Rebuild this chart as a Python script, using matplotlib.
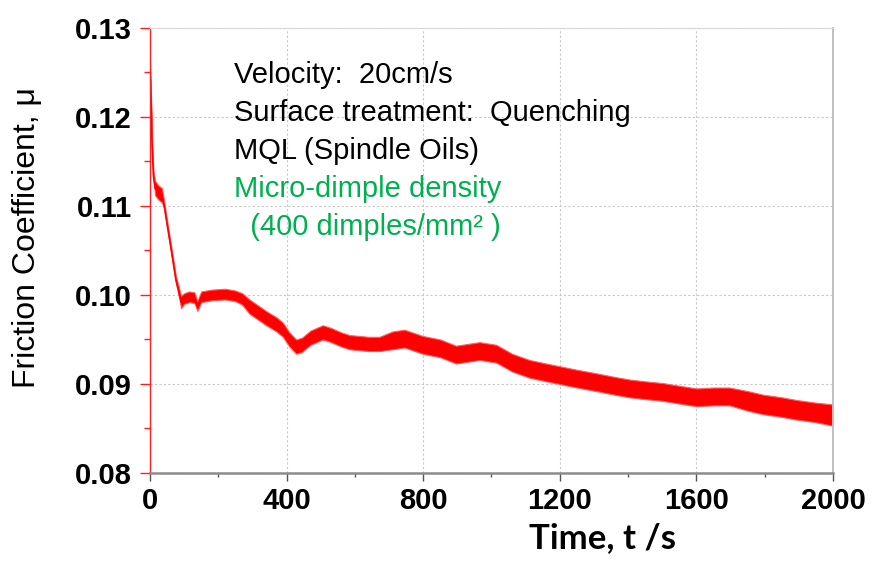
import matplotlib
matplotlib.use("Agg")
import matplotlib.pyplot as plt
from matplotlib.ticker import MultipleLocator

# time (s) and friction band (centre, lower and upper edge of the noisy line)
time_s = [0, 3, 6, 10, 15, 25, 35, 42, 50, 61, 76, 85, 91, 100, 115, 130, 139, 150,
          180, 220, 250, 270, 291, 340, 370, 389, 408, 428, 445, 470, 506, 530, 560,
          584, 640, 672, 710, 745, 798, 850, 896, 965, 1014, 1060, 1111, 1160, 1199,
          1250, 1307, 1360, 1404, 1450, 1502, 1550, 1600, 1650, 1697, 1750, 1795,
          1850, 1893, 1950, 2000]
mu_mid = [0.1255, 0.1220, 0.1170, 0.1135, 0.1120, 0.1115, 0.1112, 0.1100, 0.1080,
          0.1054, 0.1017, 0.1003, 0.0992, 0.0996, 0.0998, 0.0997, 0.0987, 0.0998,
          0.1000, 0.1001, 0.0999, 0.0995, 0.0987, 0.0974, 0.0967, 0.0961, 0.0950,
          0.0942, 0.0944, 0.0952, 0.0958, 0.0955, 0.0950, 0.0947, 0.0945, 0.0945,
          0.0949, 0.0951, 0.0944, 0.0940, 0.0933, 0.0937, 0.0934, 0.0924, 0.0917,
          0.0913, 0.0910, 0.0906, 0.0902, 0.0898, 0.0895, 0.0893, 0.0891, 0.0888,
          0.0885, 0.0886, 0.0886, 0.0881, 0.0877, 0.0874, 0.0871, 0.0868, 0.0865]
mu_lo = [0.1249, 0.1216, 0.1166, 0.1131, 0.1112, 0.1107, 0.1104, 0.1096, 0.1076,
         0.1050, 0.1013, 0.0998, 0.0985, 0.0990, 0.0992, 0.0991, 0.0982, 0.0992,
         0.0994, 0.0995, 0.0993, 0.0989, 0.0979, 0.0966, 0.0959, 0.0953, 0.0942,
         0.0934, 0.0936, 0.0944, 0.0950, 0.0947, 0.0942, 0.0939, 0.0937, 0.0937,
         0.0939, 0.0941, 0.0934, 0.0930, 0.0923, 0.0927, 0.0924, 0.0914, 0.0907,
         0.0903, 0.0900, 0.0896, 0.0892, 0.0888, 0.0885, 0.0883, 0.0881, 0.0878,
         0.0875, 0.0876, 0.0876, 0.0870, 0.0866, 0.0863, 0.0860, 0.0857, 0.0853]
mu_hi = [0.1262, 0.1224, 0.1174, 0.1139, 0.1128, 0.1123, 0.1120, 0.1104, 0.1084,
         0.1058, 0.1021, 0.1008, 0.0999, 0.1002, 0.1004, 0.1003, 0.0993, 0.1004,
         0.1006, 0.1007, 0.1005, 0.1002, 0.0995, 0.0982, 0.0975, 0.0969, 0.0958,
         0.0950, 0.0952, 0.0960, 0.0966, 0.0963, 0.0958, 0.0955, 0.0953, 0.0953,
         0.0959, 0.0961, 0.0954, 0.0950, 0.0943, 0.0947, 0.0944, 0.0934, 0.0927,
         0.0923, 0.0920, 0.0916, 0.0912, 0.0908, 0.0905, 0.0903, 0.0901, 0.0898,
         0.0895, 0.0896, 0.0896, 0.0892, 0.0888, 0.0885, 0.0882, 0.0879, 0.0877]

notes_black = ["Velocity:  20cm/s", "Surface treatment:  Quenching", "MQL (Spindle Oils)"]
notes_green = ["Micro-dimple density", "  (400 dimples/mm\u00b2 )"]

plt.rcParams['font.family'] = ['Liberation Sans', 'DejaVu Sans']

fig = plt.figure(figsize=(8.74, 5.63), dpi=100)
ax = fig.add_axes([0.1716, 0.1599, 0.7815, 0.7904])

ax.fill_between(time_s, mu_lo, mu_hi, color="#ff0000", linewidth=0.8, edgecolor="#ff6060")
ax.plot(time_s, mu_mid, color="#ff0000", linewidth=1.2)

ax.set_xlim(0, 2000)
ax.set_ylim(0.08, 0.13)
ax.xaxis.set_major_locator(MultipleLocator(400))
ax.xaxis.set_minor_locator(MultipleLocator(200))
ax.yaxis.set_major_locator(MultipleLocator(0.01))
ax.yaxis.set_minor_locator(MultipleLocator(0.005))
ax.yaxis.set_major_formatter(plt.FormatStrFormatter("%.2f"))

ax.grid(True, which="major", linestyle=(0, (2, 2)), color="#c8c8c8", linewidth=0.8)
ax.set_axisbelow(True)

ax.spines["left"].set_color("#ff2020")
ax.spines["left"].set_linewidth(1.0)
ax.spines["bottom"].set_color("#8c8c8c")
ax.spines["bottom"].set_linewidth(1.8)
ax.spines["top"].set_color("#d8d8d8")
ax.spines["right"].set_color("#c0c0c0")
ax.spines["right"].set_linewidth(1.4)

ax.tick_params(axis="y", which="major", colors="#ff2020", length=7, width=1,
               labelcolor="black", labelsize=21, pad=6)
ax.tick_params(axis="y", which="minor", colors="#ff2020", length=4, width=1)
ax.tick_params(axis="x", which="major", colors="#555555", length=6, width=1,
               labelcolor="black", labelsize=21, pad=4)
ax.tick_params(axis="x", which="minor", colors="#555555", length=3, width=1)
for lab in ax.get_xticklabels() + ax.get_yticklabels():
    lab.set_fontweight("bold")

fig.text(0.031, 0.579, "Friction Coefficient, \u03bc", fontsize=23, rotation=90,
         ha="center", va="center")
fig.text(0.689, 0.044, "Time, t /s", fontsize=25, fontweight="bold",
         family=["Lato", "DejaVu Sans"], ha="center", va="center")

y = 0.853
for line in notes_black:
    fig.text(0.268, y, line, fontsize=21, color="black", va="baseline")
    y -= 0.0675
for line in notes_green:
    fig.text(0.268, y, line, fontsize=21, color="#00b050", va="baseline")
    y -= 0.0675

fig.savefig("out.png", dpi=100)
